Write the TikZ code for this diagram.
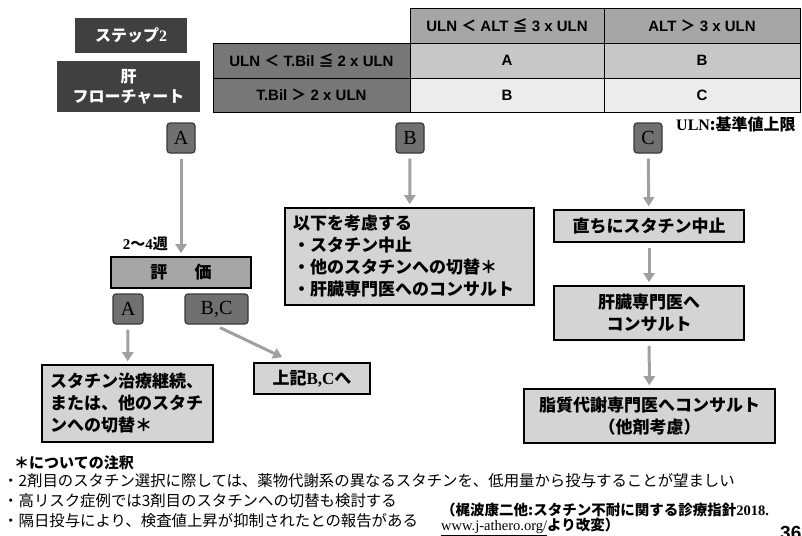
\documentclass[tikz,border=0pt]{standalone}
\usepackage{fontspec}
\setmainfont{Liberation Serif}
\setsansfont{Liberation Sans}
\newfontfamily\jp{Noto Sans CJK JP}
\usetikzlibrary{arrows.meta}
\definecolor{dk}{HTML}{404040}
\definecolor{colL}{HTML}{777777}
\definecolor{hdr}{HTML}{A6A6A6}
\definecolor{rowA}{HTML}{C8C8C8}
\definecolor{rowB}{HTML}{ECECEC}
\definecolor{lett}{HTML}{707070}
\definecolor{lettb}{HTML}{3A3A3A}
\definecolor{arrc}{HTML}{A0A0A0}
\definecolor{boxf}{HTML}{D4D4D4}
\begin{document}
\begin{tikzpicture}[x=1pt,y=-1pt,
  darkbox/.style={fill=dk, text=white, inner sep=0pt, align=center,
    font=\jp\bfseries\fontsize{16}{20}\selectfont},
  cell/.style={draw=black, line width=0.8pt, inner sep=0pt, minimum height=35pt,
    font=\sffamily\bfseries\fontsize{15}{18}\selectfont},
  letter/.style={rounded corners=3pt, fill=lett, draw=lettb, line width=1.2pt,
    minimum width=28pt, minimum height=30pt, inner sep=0pt,
    font=\rmfamily\fontsize{20}{22}\selectfont},
  cbox/.style={fill=boxf, draw=black, line width=1.6pt, inner sep=0pt,
    font=\jp\bfseries\fontsize{17}{22}\selectfont},
  arr/.style={draw=arrc, line width=3pt, -{Triangle[length=9pt,width=11pt]},
    shorten <=5pt, shorten >=3pt},
  note/.style={anchor=west, inner sep=0pt, font=\jp\fontsize{15.4}{18}\selectfont}
]
\useasboundingbox (0,0) rectangle (802,535);

% title boxes
\node[darkbox, minimum width=112pt, minimum height=35pt] (step) at (131,35.5) {ステップ{\rmfamily\bfseries 2}};
\node[darkbox, minimum width=143pt, minimum height=51pt] (kan) at (128.5,86.5) {肝\\フローチャート};

% table
\node[cell, fill=hdr, minimum width=194pt] (h1) at (507,25.5) {ULN {\jp ＜} ALT {\jp ≦} 3 x ULN};
\node[cell, fill=hdr, minimum width=196pt] (h2) at (702,25.5) {ALT {\jp ＞} 3 x ULN};
\node[cell, fill=colL, minimum width=197pt] (r1) at (311.5,60.5) {ULN {\jp ＜} T.Bil {\jp ≦} 2 x ULN};
\node[cell, fill=colL, minimum width=197pt, minimum height=34pt] (r2) at (311.5,95) {T.Bil {\jp ＞} 2 x ULN};
\node[cell, fill=rowA, minimum width=194pt] (c11) at (507,60.5) {A};
\node[cell, fill=rowA, minimum width=196pt] (c12) at (702,60.5) {B};
\node[cell, fill=rowB, minimum width=194pt, minimum height=34pt] (c21) at (507,95) {B};
\node[cell, fill=rowB, minimum width=196pt, minimum height=34pt] (c22) at (702,95) {C};

\node[anchor=west, inner sep=0pt, font=\bfseries\fontsize{16}{18}\selectfont] (uln) at (676,124) {ULN{\jp :基準値上限}};

% letters
\node[letter] (A1) at (181,138) {A};
\node[letter] (B1) at (410,138) {B};
\node[letter] (C1) at (648,138) {C};

% branch A
\node[cbox, fill=hdr, minimum width=140pt, minimum height=31pt] (eval) at (181,272.5) {評\hspace{1.6em}価};
\node[anchor=east, inner sep=0pt, font=\bfseries\fontsize{15}{17}\selectfont] (wk) at (168,244) {2{\jp 〜}4{\jp 週}};
\node[letter, minimum width=30pt] (A2) at (128,309) {A};
\node[letter, minimum width=63pt] (BC) at (216.5,309) {B,C};
\node[cbox, minimum width=171pt, minimum height=77pt, align=left, text width=155pt] (resA) at (127.5,403.5)
  {スタチン治療継続、\\または、他のスタチ\\ンへの切替＊};
\node[cbox, minimum width=116pt, minimum height=31pt] (jouki) at (312,378.5) {上記{\rmfamily\bfseries B,C}へ};

% branch B
\node[cbox, minimum width=249pt, minimum height=97pt, align=left, text width=233pt] (resB) at (409.5,256.5)
  {以下を考慮する\\・スタチン中止\\・他のスタチンへの切替＊\\・肝臓専門医へのコンサルト};

% branch C
\node[cbox, minimum width=190pt, minimum height=32pt] (cs1) at (649,226) {直ちにスタチン中止};
\node[cbox, minimum width=190pt, minimum height=54pt, align=center] (cs2) at (649,313) {肝臓専門医へ\\コンサルト};
\node[cbox, minimum width=251pt, minimum height=54pt, align=center] (cs3) at (649.5,416) {脂質代謝専門医へコンサルト\\（他剤考慮）};

% arrows
\draw[arr] (A1) -- (eval);
\draw[arr] (A2) -- (resA);
\draw[arr, shorten <=0pt, shorten >=0pt] ([shift={(3.5,3)}]BC.south) -- ([shift={(29,-5)}]jouki.north west);
\draw[arr] (B1) -- (resB);
\draw[arr] (C1) -- (cs1);
\draw[arr] (cs1) -- (cs2);
\draw[arr] (cs2) -- (cs3);

% notes
\node[note, font=\jp\bfseries\fontsize{15}{18}\selectfont] (n0) at (14,463) {＊についての注釈};
\node[note] (n1) at (3,481) {・2剤目のスタチン選択に際しては、薬物代謝系の異なるスタチンを、低用量から投与することが望ましい};
\node[note] (n2) at (3,501) {・高リスク症例では3剤目のスタチンへの切替も検討する};
\node[note] (n3) at (3,521) {・隔日投与により、検査値上昇が抑制されたとの報告がある};
\node[anchor=west, inner sep=0pt, font=\jp\bfseries\fontsize{14.5}{16}\selectfont] (cit1) at (441,510) {（梶波康二他:スタチン不耐に関する診療指針{\rmfamily 2018.}};
\node[anchor=west, inner sep=0pt, font=\jp\bfseries\fontsize{14.5}{16}\selectfont] (cit2) at (441,527) {{\rmfamily\mdseries\underline{www.j-athero.org/}}より改変）};
\node[anchor=base west, inner sep=0pt, font=\sffamily\bfseries\fontsize{19}{22}\selectfont] (pg) at (780,539) {36};
\end{tikzpicture}
\end{document}
